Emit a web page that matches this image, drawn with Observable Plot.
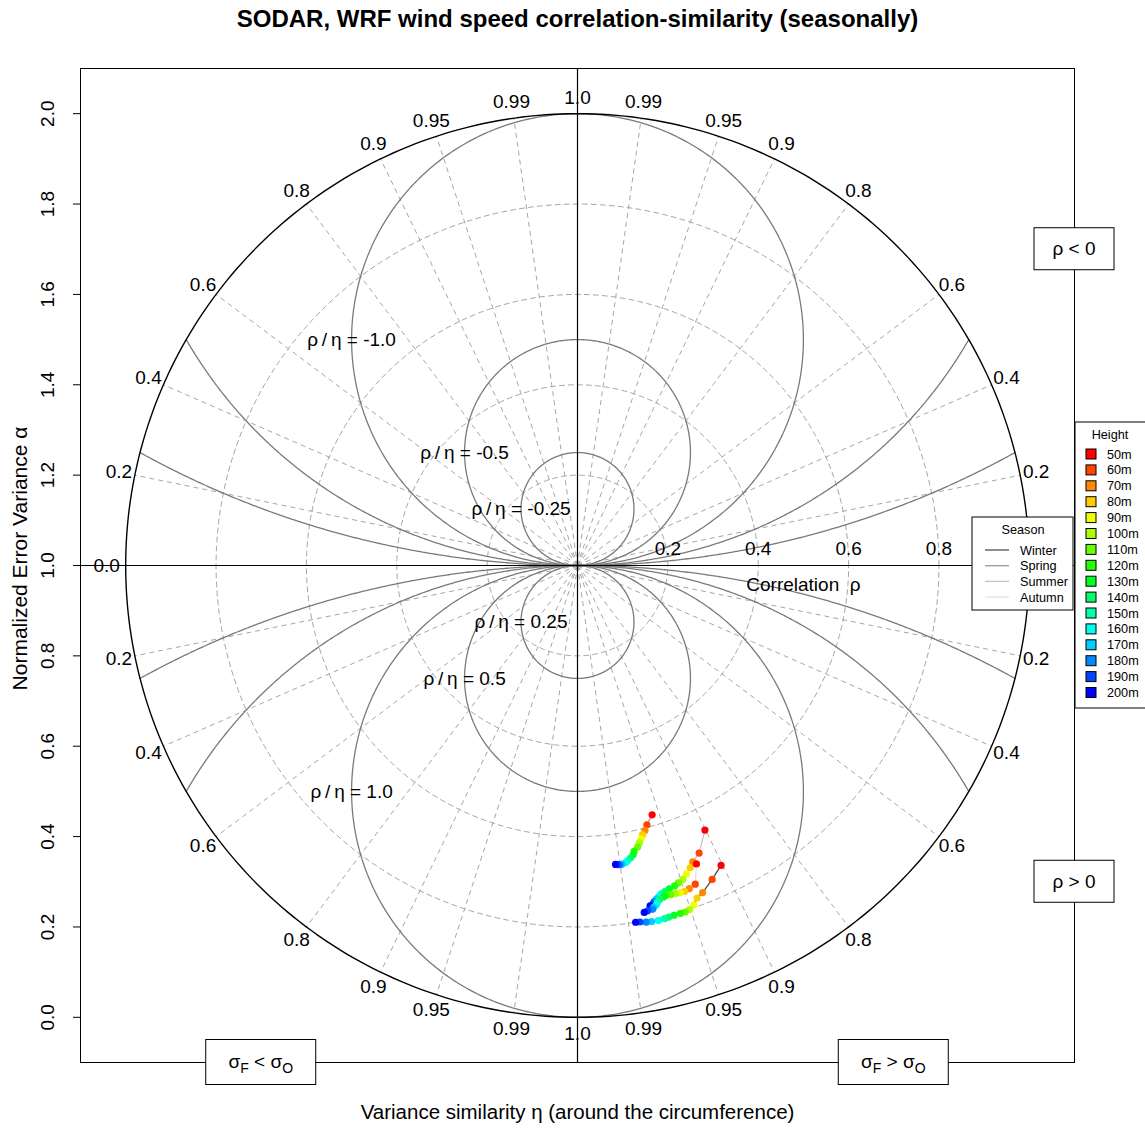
<!DOCTYPE html>
<html><head><meta charset="utf-8">
<script src="https://cdn.jsdelivr.net/npm/d3@7"></script>
<script src="https://cdn.jsdelivr.net/npm/@observablehq/plot@0.6"></script>
<style>
body{margin:0;background:#fff;font-family:"Liberation Sans",Arial,sans-serif;}
#title{height:38px;line-height:38px;font-weight:bold;font-size:24px;text-align:center;width:1145px;padding-left:10px;box-sizing:border-box;color:#000;}
svg{display:block;}
</style></head><body>
<div id="title">SODAR, WRF wind speed correlation-similarity (seasonally)</div>
<div id="chart"></div>
<script>
// ---------- data ----------
const seasons = ["Winter", "Spring", "Summer", "Autumn"];
const seasonColors = ["#505050", "#9a9a9a", "#c4c4c4", "#e2e2e2"];
const heights = ["50m","60m","70m","80m","90m","100m","110m","120m","130m","140m","150m","160m","170m","180m","190m","200m"];
const heightColors = ["#FF0000","#FF4400","#FF8800","#FFCC00","#EEFF00","#AAFF00","#66FF00","#22FF00","#00FF22","#00FF66","#00FFAA","#00FFEE","#00CCFF","#0088FF","#0044FF","#0000FF"];

// correlation rho and variance similarity eta for each height (50m ... 200m)
const rhoWinter = [0.736,0.756,0.775,0.782,0.794,0.801,0.803,0.803,0.803,0.804,0.805,0.806,0.805,0.804,0.801,0.800];
const etaWinter = [0.902,0.919,0.934,0.941,0.946,0.951,0.955,0.959,0.964,0.968,0.971,0.975,0.979,0.982,0.985,0.987];
const rhoSpring = [0.576,0.594,0.605,0.613,0.621,0.629,0.637,0.645,0.652,0.658,0.663,0.666,0.668,0.669,0.668,0.667];
const etaSpring = [0.958,0.966,0.969,0.972,0.974,0.976,0.978,0.981,0.982,0.984,0.986,0.987,0.989,0.990,0.991,0.992];
const rhoSummer = [0.650,0.691,0.704,0.714,0.724,0.733,0.737,0.741,0.744,0.747,0.750,0.754,0.758,0.763,0.767,0.770];
const etaSummer = [0.901,0.921,0.932,0.937,0.943,0.948,0.953,0.957,0.962,0.966,0.969,0.971,0.973,0.975,0.976,0.978];
const rhoAutumn = [0.711,0.752,0.757,0.759,0.759,0.758,0.757,0.756,0.758,0.761,0.766,0.771,0.775,0.779,0.780,0.782];
const etaAutumn = [0.929,0.938,0.945,0.950,0.954,0.958,0.962,0.966,0.968,0.971,0.973,0.974,0.976,0.977,0.980,0.982];

// diagram grid values
const corrLevels = [0.2, 0.4, 0.6, 0.8];
const etaTicks = [0.2, 0.4, 0.6, 0.8, 0.9, 0.95, 0.99];
const ratioLevels = [-4, -2, -1, -0.5, -0.25, 0.25, 0.5, 1, 2, 4];
const ratioLabelLevels = [-1, -0.5, -0.25, 0.25, 0.5, 1];
const yTicks = [0, 0.2, 0.4, 0.6, 0.8, 1.0, 1.2, 1.4, 1.6, 1.8, 2.0];

// ---------- build tables ----------
const seriesRho = [rhoWinter, rhoSpring, rhoSummer, rhoAutumn];
const seriesEta = [etaWinter, etaSpring, etaSummer, etaAutumn];
const rows = [];
seasons.forEach((s, si) => {
  heights.forEach((h, hi) => {
    const rho = seriesRho[si][hi], eta = seriesEta[si][hi];
    rows.push({season: s, height: h, si, hi, rho, eta,
      x: Math.abs(rho) * Math.sqrt(1 - eta * eta), y: 1 - rho * eta});
  });
});

const deg = Math.PI / 180;
function circleRows(r, key) {
  return d3.range(0, 361).map(t => ({x: r * Math.cos(t * deg), y: 1 + r * Math.sin(t * deg), key}));
}
const outer = circleRows(1, "outer");
const corrCircles = corrLevels.flatMap(c => circleRows(c, "c" + c));
const ratioCurves = ratioLevels.flatMap(k => [-1, 1].flatMap(s => {
  const tmax = Math.asin(Math.min(1, 1 / Math.abs(k)));
  return d3.range(0, 241).map(i => {
    const t = tmax * i / 240, e = Math.sin(t);
    return {x: s * Math.abs(k) * e * Math.cos(t), y: 1 - k * e * e, key: k + "_" + s};
  });
}));
const quads = [[-1, 1], [1, 1], [-1, -1], [1, -1]];
const spokes = etaTicks.flatMap(e => quads.map(([sx, sy]) => ({x: sx * Math.sqrt(1 - e * e), y: 1 + sy * e})));
const L = 1.036;
// the right-hand "0.0" is hidden under the Season legend in the reference
const etaLabels = etaTicks.flatMap(e => quads.map(([sx, sy]) => ({x: sx * L * Math.sqrt(1 - e * e), y: 1 + sy * L * e, label: String(e)})))
  .concat([{x: 0, y: 1 + L, label: "1.0"}, {x: 0, y: 1 - L, label: "1.0"}, {x: -L - 0.006, y: 1, label: "0.0"}]);
const fmtRatio = d => (Math.abs(d) === 1 ? d.toFixed(1) : String(d));

const gridGray = "#7a7a7a";
const dashGray = "#a6a6a6";

const svg = Plot.plot({
  width: 1145, height: 1092,
  marginTop: 30, marginBottom: 68, marginLeft: 80, marginRight: 71,
  style: {fontFamily: "'Liberation Sans', Arial, sans-serif", fontSize: "19px", background: "white", overflow: "visible"},
  x: {domain: [-1.1, 1.1], axis: null},
  y: {domain: [-0.1, 2.1], axis: null},
  marks: [
    Plot.line(corrCircles, {x: "x", y: "y", z: "key", stroke: dashGray, strokeWidth: 1, strokeDasharray: "5,4"}),
    Plot.link(spokes, {x1: () => 0, y1: () => 1, x2: "x", y2: "y", stroke: dashGray, strokeWidth: 1, strokeDasharray: "5,4"}),
    Plot.line(ratioCurves, {x: "x", y: "y", z: "key", stroke: gridGray, strokeWidth: 1.3}),
    Plot.line(outer, {x: "x", y: "y", stroke: "black", strokeWidth: 1.4}),
    Plot.ruleY([1], {stroke: "black", strokeWidth: 1.2}),
    Plot.ruleX([0], {stroke: "black", strokeWidth: 1.2}),
    Plot.frame({stroke: "black", strokeWidth: 1}),
    Plot.axisY({ticks: yTicks, tickFormat: ".1f", tickSize: 7, tickRotate: -90, tickPadding: 20, fontSize: 19, label: null}),
    Plot.text(["Normalized Error Variance \u03b1"], {frameAnchor: "left", textAnchor: "middle", rotate: -90, dx: -60, dy: -7, fontSize: 21}),
    Plot.text(["Variance similarity \u03b7 (around the circumference)"], {frameAnchor: "bottom", textAnchor: "middle", dy: 56, fontSize: 20.5}),
    Plot.text(etaLabels, {x: "x", y: "y", text: "label", fontSize: 19}),
    Plot.text(corrLevels, {x: d => d, y: () => 1, dy: -17, text: d => d.toFixed(1), fontSize: 19}),
    Plot.text(["Correlation  \u03c1"], {x: () => 0.5, y: () => 1, dy: 19, fontSize: 19}),
    Plot.text(ratioLabelLevels, {x: d => -Math.abs(d) / 2, y: d => 1 - d / 2, text: d => "\u03c1\u2009/\u2009\u03b7 = " + fmtRatio(d), fontSize: 19}),
    Plot.line(rows, {x: "x", y: "y", z: "season", stroke: d => seasonColors[d.si], strokeWidth: 1.3}),
    Plot.dot(rows, {x: "x", y: "y", fill: d => heightColors[d.hi], r: 3.6})
  ]
});
document.getElementById("chart").appendChild(svg);

// ---------- annotation boxes and legends ----------
const sx = svg.scale("x"), sy = svg.scale("y");
const root = d3.select(svg).append("g").attr("font-family", "'Liberation Sans', Arial, sans-serif").attr("text-anchor", "start");
function box(cx, cy, w, h) {
  root.append("rect").attr("x", cx - w / 2).attr("y", cy - h / 2).attr("width", w).attr("height", h)
    .attr("fill", "white").attr("stroke", "black").attr("stroke-width", 1);
}
// rho boxes on the right edge
[[1.7, "\u03c1 < 0"], [0.3, "\u03c1 > 0"]].forEach(([a, t]) => {
  const cx = sx.apply(1.1), cy = sy.apply(a);
  box(cx, cy, 80, 42);
  root.append("text").attr("x", cx).attr("y", cy).attr("dy", "0.35em").attr("text-anchor", "middle")
    .attr("font-size", 19).text(t);
});
// sigma boxes on the bottom edge
[[-0.7, "<"], [0.7, ">"]].forEach(([xv, op]) => {
  const cx = sx.apply(xv), cy = sy.apply(-0.1);
  box(cx, cy, 110, 45);
  const t = root.append("text").attr("x", cx).attr("y", cy).attr("dy", "0.3em").attr("text-anchor", "middle").attr("font-size", 19);
  t.append("tspan").text("\u03c3");
  t.append("tspan").attr("font-size", 14).attr("dy", 5).text("F");
  t.append("tspan").attr("dy", -5).text(" " + op + " \u03c3");
  t.append("tspan").attr("font-size", 14).attr("dy", 5).text("O");
});
// Season legend
const sl = root.append("g").attr("transform", "translate(972,479)");
sl.append("rect").attr("width", 101).attr("height", 93).attr("fill", "white").attr("stroke", "black");
sl.append("text").attr("x", 51).attr("y", 17).attr("text-anchor", "middle").attr("font-size", 12.7).text("Season");
seasons.forEach((s, i) => {
  const y = 33 + i * 15.7;
  sl.append("line").attr("x1", 13).attr("x2", 37).attr("y1", y).attr("y2", y).attr("stroke", seasonColors[i]).attr("stroke-width", 1.3);
  sl.append("text").attr("x", 48).attr("y", y + 4.5).attr("text-anchor", "start").attr("font-size", 12.7).text(s);
});
// Height legend
const hl = root.append("g").attr("transform", "translate(1075,384)");
hl.append("rect").attr("width", 80).attr("height", 286).attr("fill", "white").attr("stroke", "black");
hl.append("text").attr("x", 35).attr("y", 17).attr("text-anchor", "middle").attr("font-size", 12.7).text("Height");
heights.forEach((h, i) => {
  const y = 32 + i * 15.9;
  hl.append("rect").attr("x", 11).attr("y", y - 5).attr("width", 10).attr("height", 10)
    .attr("fill", heightColors[i]).attr("stroke", "black").attr("stroke-width", 1);
  hl.append("text").attr("x", 32).attr("y", y + 4.5).attr("text-anchor", "start").attr("font-size", 12.7).text(h);
});
</script></body></html>
